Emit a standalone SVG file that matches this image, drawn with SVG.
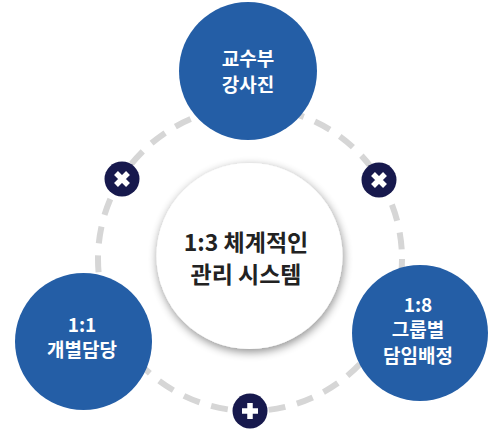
<svg xmlns="http://www.w3.org/2000/svg" width="504" height="439" viewBox="0 0 504 439">
<defs>
<style>
.node{fill:#245ea6;}
.lbl{font-family:"Noto Sans CJK KR","Noto Sans",sans-serif;font-weight:700;fill:#ffffff;font-size:19px;text-anchor:middle;}
.ctr{font-family:"Noto Sans CJK KR","Noto Sans",sans-serif;font-weight:700;fill:#222222;font-size:23px;text-anchor:middle;}
.badge{fill:#17194d;}
.mark{stroke:#ffffff;stroke-width:5.5;stroke-linecap:butt;}
</style>
<filter id="sh" x="-30%" y="-30%" width="160%" height="160%">
<feGaussianBlur in="SourceAlpha" stdDeviation="5"/>
<feOffset dx="1" dy="3" result="b"/>
<feComponentTransfer><feFuncA type="linear" slope="0.45"/></feComponentTransfer>
<feMerge><feMergeNode/><feMergeNode in="SourceGraphic"/></feMerge>
</filter>
</defs>
<rect width="504" height="439" fill="#ffffff"/>
<g id="connectors">
<circle cx="250" cy="259" r="152" fill="none" stroke="#d6d6d6" stroke-width="6" stroke-dasharray="17 12"/>
</g>
<g id="center">
<circle cx="249.5" cy="256" r="93" fill="#ffffff" filter="url(#sh)"/>
<text class="ctr" x="246" y="251">1:3 체계적인</text>
<text class="ctr" x="246" y="283">관리 시스템</text>
</g>
<g id="node-top">
<circle class="node" cx="248" cy="71" r="69"/>
<text class="lbl" x="248" y="66">교수부</text>
<text class="lbl" x="248" y="92">강사진</text>
</g>
<g id="node-left">
<circle class="node" cx="83.5" cy="341.5" r="68.5"/>
<text class="lbl" x="82" y="332">1:1</text>
<text class="lbl" x="82" y="357">개별담당</text>
</g>
<g id="node-right">
<circle class="node" cx="420" cy="333" r="68"/>
<text class="lbl" x="418" y="312">1:8</text>
<text class="lbl" x="418" y="337">그룹별</text>
<text class="lbl" x="418" y="363">담임배정</text>
</g>
<g id="badge-left">
<circle class="badge" cx="122" cy="179" r="17.5"/>
<path class="mark" d="M116 173 L128 185 M128 173 L116 185"/>
</g>
<g id="badge-right">
<circle class="badge" cx="379" cy="180" r="17.5"/>
<path class="mark" d="M373 174 L385 186 M385 174 L373 186"/>
</g>
<g id="badge-bottom">
<circle class="badge" cx="250" cy="411" r="17.5"/>
<path class="mark" d="M250 403 L250 419 M242 411 L258 411"/>
</g>
</svg>
